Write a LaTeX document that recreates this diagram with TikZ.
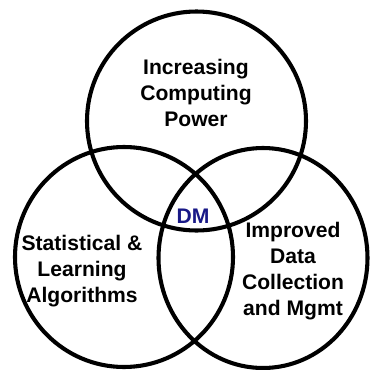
\documentclass[tikz,border=0pt]{standalone}
\usepackage{fontspec}
\setmainfont{Liberation Sans}
\definecolor{dmblue}{RGB}{25,25,135}
\tikzset{
  ring/.style={line width=2.9pt},
  label/.style={align=center, font=\fontsize{15}{18.5}\selectfont\bfseries}
}
\begin{document}
\begin{tikzpicture}[x=0.025cm, y=-0.025cm]
            \useasboundingbox (0,0) rectangle (371,370);

            \draw[ring] (196.5,121) circle [x radius=109.5, y radius=109.5];
            \draw[ring] (124,257) circle [x radius=109, y radius=110];
            \draw[ring] (263,258) circle [x radius=104.5, y radius=110];

            \node[label] (power) at (196,93) {Increasing\\Computing\\Power};
            \node[label] (algo) at (82,271) {Statistical \&\\Learning\\Algorithms};
            \node[label] (data) at (293,271) {Improved\\Data\\Collection\\and Mgmt};
            \node[label, text=dmblue] (dm) at (193,216) {DM};
        \end{tikzpicture}
\end{document}
